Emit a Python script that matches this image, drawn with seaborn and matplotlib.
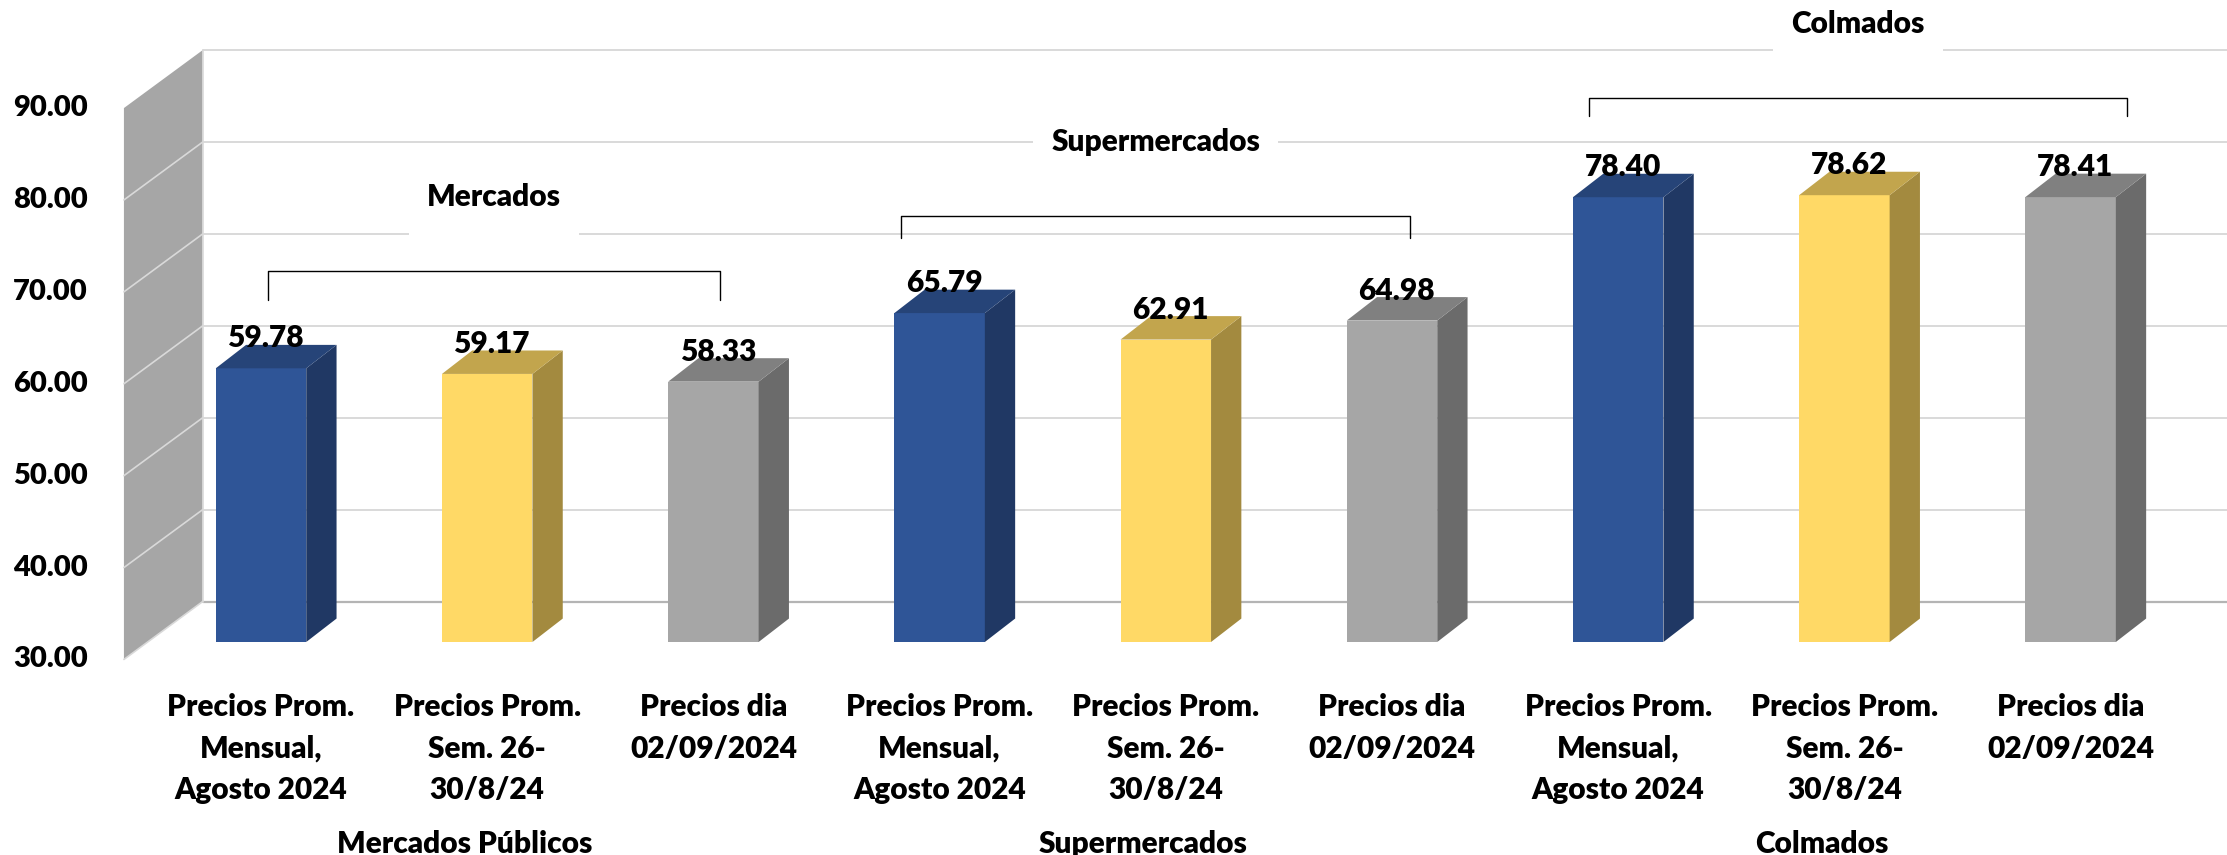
import numpy as np
import pandas as pd
import matplotlib.pyplot as plt
import seaborn as sns
from matplotlib.patches import Polygon, Rectangle


grupos = ['Mercados Públicos', 'Supermercados', 'Colmados']
encabezados = ['Mercados', 'Supermercados', 'Colmados']
series = ['Precios Prom.\nMensual,\nAgosto 2024',
          'Precios Prom.\nSem. 26-\n30/8/24',
          'Precios dia\n02/09/2024']
valores = [59.78, 59.17, 58.33,
           65.79, 62.91, 64.98,
           78.40, 78.62, 78.41]
ticks_y = [30, 40, 50, 60, 70, 80, 90]

colores_frente = ['#2F5597', '#FFD966', '#A6A6A6']
colores_lado = ['#203864', '#A38A3F', '#6B6B6B']
colores_tope = ['#264478', '#C2A54D', '#808080']

df = pd.DataFrame({
    'grupo': np.repeat(grupos, len(series)),
    'serie': series * len(grupos),
    'valor': valores,
})
df['pos'] = df['grupo'] + '|' + df['serie']

sns.set_theme(style='white')
plt.rcParams['font.family'] = ['Lato', 'DejaVu Sans']
peso = 'heavy'

# escala de la figura (px por unidad)
W, H = 2227, 855
px_x, px_v = 226.2, 9.19
x0_px, base_px = 261, 642
base = 30
fs = 21.5

fig = plt.figure(figsize=(W / 100, H / 100), dpi=100)
ax = fig.add_axes([0, 0, 1, 1])
sns.barplot(data=df, x='pos', y='valor', hue='serie', palette=colores_frente,
            dodge=False, width=0.40, saturation=1, legend=False, ax=ax,
            linewidth=0, zorder=3)
bars = sorted(ax.patches[:], key=lambda p: p.get_x())
ax.set_xlim(-x0_px / px_x, (W - x0_px) / px_x)
ax.set_ylim(base - (H - base_px) / px_v, base + base_px / px_v)
ax.axis('off')
xr = ax.get_xlim()[1]

# pared lateral y rejilla del fondo
xf, xb = -0.606, -0.258
vf, vb = -1.9, 4.4
ax.add_patch(Polygon([(xf, base + vf), (xf, ticks_y[-1] + vf),
                      (xb, ticks_y[-1] + vb), (xb, base + vb)],
                     closed=True, facecolor='#A6A6A6', edgecolor='none', zorder=1))
for t in ticks_y[1:]:
    ax.plot([xb, xr], [t + vb] * 2, color='#D9D9D9', lw=1.4, zorder=0.5)
    if t < ticks_y[-1]:
        ax.plot([xf, xb], [t + vf, t + vb], color='#D9D9D9', lw=1.2, zorder=1.5)
ax.plot([xb, xr], [base + vb] * 2, color='#B4B4B4', lw=1.6, zorder=0.6)
ax.plot([xf, xb], [base + vf, base + vb], color='#D9D9D9', lw=1.2, zorder=1.5)
ax.plot([xb, xb], [base + vb, ticks_y[-1] + vb], color='#D9D9D9', lw=1.2, zorder=1.5)

for t in ticks_y:
    ax.text(-0.765, t + vf, f'{t:.2f}', ha='right', va='center', fontsize=fs - 0.5,
            fontweight=peso, color='black')

# barras 3D: cara frontal de seaborn + lado y tapa
dx, dv = 0.134, 2.55
centros = []
for i, p in enumerate(bars):
    h = p.get_height()
    p.set_y(base)
    p.set_height(h - base)
    x0, x1 = p.get_x(), p.get_x() + p.get_width()
    k = i % len(series)
    ax.add_patch(Polygon([(x1, base), (x1 + dx, base + dv), (x1 + dx, h + dv), (x1, h)],
                         closed=True, facecolor=colores_lado[k], edgecolor='none', zorder=3))
    ax.add_patch(Polygon([(x0, h), (x1, h), (x1 + dx, h + dv), (x0 + dx, h + dv)],
                         closed=True, facecolor=colores_tope[k], edgecolor='none', zorder=3))
    cx = (x0 + x1) / 2
    centros.append(cx)
    ax.text(cx + 0.02, h + 3.25, f'{h:.2f}', ha='center', va='center', fontsize=fs,
            fontweight=peso, color='black', zorder=5)
    ax.text(cx, 24.4, df['serie'][i], ha='center', va='top', fontsize=fs,
            fontweight=peso, linespacing=1.58, color='black')

# etiquetas de grupo y llaves
bracket_pad = [(0.03, 0.03), (-0.17, 0.08), (-0.13, 0.25)]
bracket_tick = [3.2, 2.4, 2.0]
n = len(series)
cabeceras = []
for g in range(len(grupos)):
    c = centros[g * n:(g + 1) * n]
    vals = valores[g * n:(g + 1) * n]
    ax.text(c[1] - 0.1, 8.0, grupos[g], ha='center', va='center', fontsize=fs,
            fontweight=peso, color='black')
    top = max(vals) + 10.6
    a, b = c[0] + bracket_pad[g][0], c[-1] + bracket_pad[g][1]
    ax.plot([a, a, b, b], [top - bracket_tick[g], top, top, top - bracket_tick[g]],
            color='black', lw=1.0, zorder=4, solid_joinstyle='round')
    txt = ax.text((a + b) / 2, top + 8.0, encabezados[g], ha='center', va='center',
                  fontsize=fs, fontweight=peso, color='black', zorder=5)
    cabeceras.append(txt)

fig.canvas.draw()
renderer = fig.canvas.get_renderer()
inv = ax.transData.inverted()
for txt in cabeceras:
    bb = txt.get_window_extent(renderer)
    cy = (bb.y0 + bb.y1) / 2
    (rx0, ry0) = inv.transform((bb.x0 - 18, cy - 48))
    (rx1, ry1) = inv.transform((bb.x1 + 18, cy + 25))
    ax.add_patch(Rectangle((rx0, ry0), rx1 - rx0, ry1 - ry0, facecolor='white',
                           edgecolor='none', zorder=2))

fig.savefig('out.png', dpi=100)
